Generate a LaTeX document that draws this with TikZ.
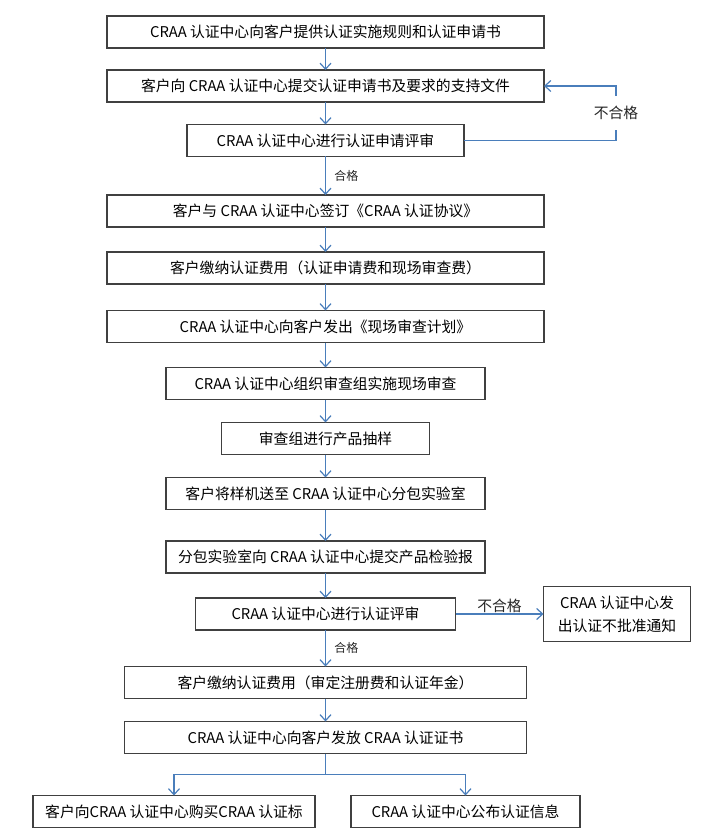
\documentclass[tikz,border=0pt]{standalone}
\usepackage{fontspec}
\setmainfont{Noto Sans CJK SC}
\usepackage{xcolor}
\usepackage{tikz}
\usetikzlibrary{arrows.meta, positioning, calc}

\definecolor{flowblue}{RGB}{74,126,187}
\definecolor{boxline}{RGB}{64,64,64}

\begin{document}
\begin{tikzpicture}[
        node distance=22pt,
        stage/.style={rectangle, draw=boxline, line width=1.1pt, minimum height=32pt,
                      inner sep=0pt, outer sep=0pt, text centered, font=\fontsize{14.8pt}{17pt}\selectfont},
        arrow/.style={draw=flowblue, line width=1.2pt, -{Straight Barb[length=6pt, width=11pt]}},
        line/.style={draw=flowblue, line width=1.2pt},
        fail/.style={font=\fontsize{14.8pt}{17pt}\selectfont, text=black!85},
        pass/.style={font=\fontsize{12pt}{14pt}\selectfont, text=black!85}
      ]
      \useasboundingbox (0,0) rectangle (705pt,-834pt);

      % --- Application ---
      \node (provide) [stage, minimum width=437pt] at (325.5pt,-32pt) {CRAA 认证中心向客户提供认证实施规则和认证申请书};
      \node (submit) [stage, minimum width=437pt, below=22pt of provide] {客户向 CRAA 认证中心提交认证申请书及要求的支持文件};
      \node (appreview) [stage, minimum width=277pt, below=22.5pt of submit] {CRAA 认证中心进行认证申请评审};

      % --- Agreement and audit ---
      \node (agreement) [stage, minimum width=437pt, below=38.5pt of appreview] {客户与 CRAA 认证中心签订《CRAA 认证协议》};
      \node (fee1) [stage, minimum width=437pt, below=25pt of agreement] {客户缴纳认证费用（认证申请费和现场审查费）};
      \node (plan) [stage, minimum width=437pt, below=26.5pt of fee1] {CRAA 认证中心向客户发出《现场审查计划》};
      \node (audit) [stage, minimum width=319pt, below=25pt of plan] {CRAA 认证中心组织审查组实施现场审查};
      \node (sampling) [stage, minimum width=208pt, below=23pt of audit] {审查组进行产品抽样};
      \node (sendlab) [stage, minimum width=319pt, below=23pt of sampling] {客户将样机送至 CRAA 认证中心分包实验室};
      \node (report) [stage, minimum width=319pt, below=31.5pt of sendlab] {分包实验室向 CRAA 认证中心提交产品检验报};

      % --- Certification ---
      \node (certreview) [stage, minimum width=260pt, below=25pt of report] {CRAA 认证中心进行认证评审};
      \node (reject) [stage, minimum width=147pt, minimum height=55pt, align=center,
                      font=\fontsize{14.8pt}{23pt}\selectfont, right=88pt of certreview] {CRAA 认证中心发\\出认证不批准通知};
      \node (fee2) [stage, minimum width=402pt, below=36.5pt of certreview] {客户缴纳认证费用（审定注册费和认证年金）};
      \node (issue) [stage, minimum width=402pt, below=23pt of fee2] {CRAA 认证中心向客户发放 CRAA 认证证书};
      \node (buymark) [stage, minimum width=282pt, below=42pt of issue, xshift=-151.5pt] {客户向CRAA 认证中心购买CRAA 认证标};
      \node (publish) [stage, minimum width=229pt, below=42pt of issue, xshift=140pt] {CRAA 认证中心公布认证信息};

      % --- Arrows ---
      \draw [arrow] (provide) -- (submit);
      \draw [arrow] (submit) -- (appreview);
      \draw [arrow] (appreview.east) -- ++(152pt,0) |- node[fail, pos=0.25, fill=white, inner xsep=1pt, inner ysep=10pt] {不合格} (submit.east);
      \draw [arrow] (appreview) -- node[pass, right=5pt] {合格} (agreement);
      \draw [arrow] (agreement) -- (fee1);
      \draw [arrow] (fee1) -- (plan);
      \draw [arrow] (plan) -- (audit);
      \draw [arrow] (audit) -- (sampling);
      \draw [arrow] (sampling) -- (sendlab);
      \draw [arrow] (sendlab) -- (report);
      \draw [arrow] (report) -- (certreview);
      \draw [arrow] (certreview) -- node[fail, above, inner sep=1pt] {不合格} (reject);
      \draw [arrow] (certreview) -- node[pass, right=5pt] {合格} (fee2);
      \draw [arrow] (fee2) -- (issue);
      \draw [line] (issue.south) -- ++(0,-21pt) coordinate (split);
      \draw [arrow] (split) -| (buymark.north);
      \draw [arrow] (split) -| (publish.north);

    \end{tikzpicture}
\end{document}
